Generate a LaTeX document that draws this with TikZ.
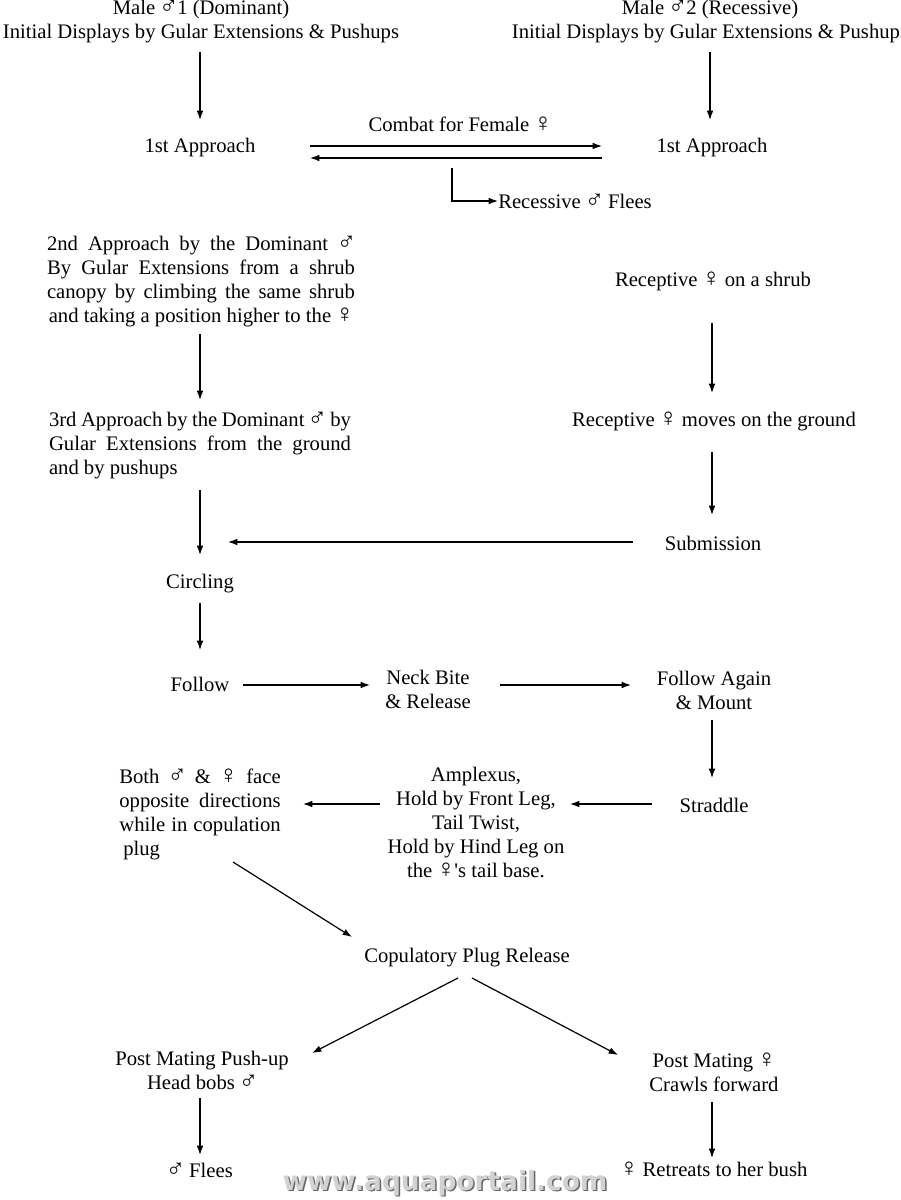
\documentclass[tikz,border=0pt]{standalone}
\usepackage{fontspec}
\setmainfont{Liberation Serif}
\newfontfamily\wmfont{DejaVu Sans}
\usetikzlibrary{arrows.meta}
\newcommand\jl[2]{\makebox[#1][s]{#2}}
\newcommand\Ma{\kern-0.06em\smash{\scalebox{1.25}{♂}}\kern-0.06em}
\newcommand\Fe{\kern-0.06em\smash{\scalebox{1.25}{♀}}\kern-0.06em}
\begin{document}
\begin{tikzpicture}[x=0.75pt,y=-0.75pt,
  every node/.style={font=\fontsize{15.5}{18}\selectfont, inner sep=0pt, align=center},
  arr/.style={-{Latex[length=7pt,width=5pt]}, line width=0.9pt},
  wm/.style={font=\wmfont\bfseries\fontsize{19.8}{22}\selectfont}]
\useasboundingbox (0,0) rectangle (900,1200);

% top
\node (m1) at (201,22) {Male \Ma1 (Dominant)\\Initial Displays by Gular Extensions \& Pushups};
\node (m2) at (710,22) {Male \Ma2 (Recessive)\\Initial Displays by Gular Extensions \& Pushups};
\node (a1) at (200,148) {1st Approach};
\node (a2) at (712,148) {1st Approach};
\node (combat) at (460,124) {Combat for Female \Fe};
\node[anchor=west] (flee) at (498,201) {Recessive \Ma{} Flees};

\coordinate (cL1) at (310,146); \coordinate (cR1) at (602,146);
\coordinate (cL2) at (310,158); \coordinate (cR2) at (602,158);
\coordinate (fs) at (452,168);

\draw[arr] (200,52) -- (200,120);
\draw[arr] (710,52) -- (710,120);
\draw[arr] (cL1) -- (cR1);
\draw[arr] (cR2) -- (cL2);
\draw[arr] (fs) |- (flee.west);

% left column
\node[align=left] (ap2) at (201,282) {%
\jl{231pt}{2nd Approach by the Dominant \Ma}\\
\jl{231pt}{By Gular Extensions from a shrub}\\
\jl{231pt}{canopy by climbing the same shrub}\\
\makebox[231pt]{and taking a position higher to the \Fe}};
\node[align=left] (ap3) at (200,446) {%
\jl{226.5pt}{3rd Approach by the Dominant \Ma{} by}\\
\jl{226.5pt}{Gular Extensions from the ground}\\
\makebox[226.5pt][l]{and by pushups}};
\node (circ) at (200,584) {Circling};
\node (fol) at (200,684) {Follow};
\node (neck) at (428,689) {Neck Bite\\\& Release};
\node (fam) at (714,690) {Follow Again\\\& Mount};

% right column
\node (rs) at (713,282) {Receptive \Fe{} on a shrub};
\node (rg) at (714,422) {Receptive \Fe{} moves on the ground};
\node (sub) at (713,543) {Submission};

\coordinate (subw) at (633,542);
\draw[arr] (200,334) -- (200,400);
\draw[arr] (200,490) -- (200,555);
\draw[arr] (712,323) -- (712,393);
\draw[arr] (712,452) -- (712,515);
\draw[arr] (subw) -- (228,542);
\draw[arr] (200,603) -- (200,650);
\draw[arr] (243,685) -- (370,685);
\draw[arr] (500,685) -- (631,685);
\draw[arr] (712,720) -- (712,778);

\node (str) at (714,805) {Straddle};
\node (amp) at (476,822) {Amplexus,\\Hold by Front Leg,\\Tail Twist,\\Hold by Hind Leg on\\the \Fe\textquotesingle s tail base.};
\node[align=left] (both) at (200,814) {%
\jl{121pt}{Both \Ma{} \& \Fe{} face}\\
\jl{121pt}{opposite directions}\\
\jl{121pt}{while in copulation}\\
\makebox[121pt][l]{\hspace{3pt}plug}};
\draw[arr] (652,804) -- (570,804);
\draw[arr] (380,804) -- (303,804);

\node (cpr) at (467,958) {Copulatory Plug Release};
\draw[arr] (233,862) -- (352,937);
\draw[arr] (458,978) -- (312,1053);
\draw[arr] (472,978) -- (618,1055);

\node (pmm) at (202,1070) {Post Mating Push-up\\Head bobs \Ma};
\node (pmf) at (714,1073) {Post Mating \Fe\\Crawls forward};
\node (mf) at (200,1170) {\Ma{} Flees};
\node (fr) at (714,1169) {\Fe{} Retreats to her bush};
\draw[arr] (200,1098) -- (200,1155);
\draw[arr] (712,1102) -- (712,1158);

% watermark
\node[wm, text=gray!80!black] (wms) at (446.5,1184.5) {www.aquaportail.com};
\node[wm, text=gray!35] (wmt) at (445,1183) {www.aquaportail.com};
\end{tikzpicture}
\end{document}
